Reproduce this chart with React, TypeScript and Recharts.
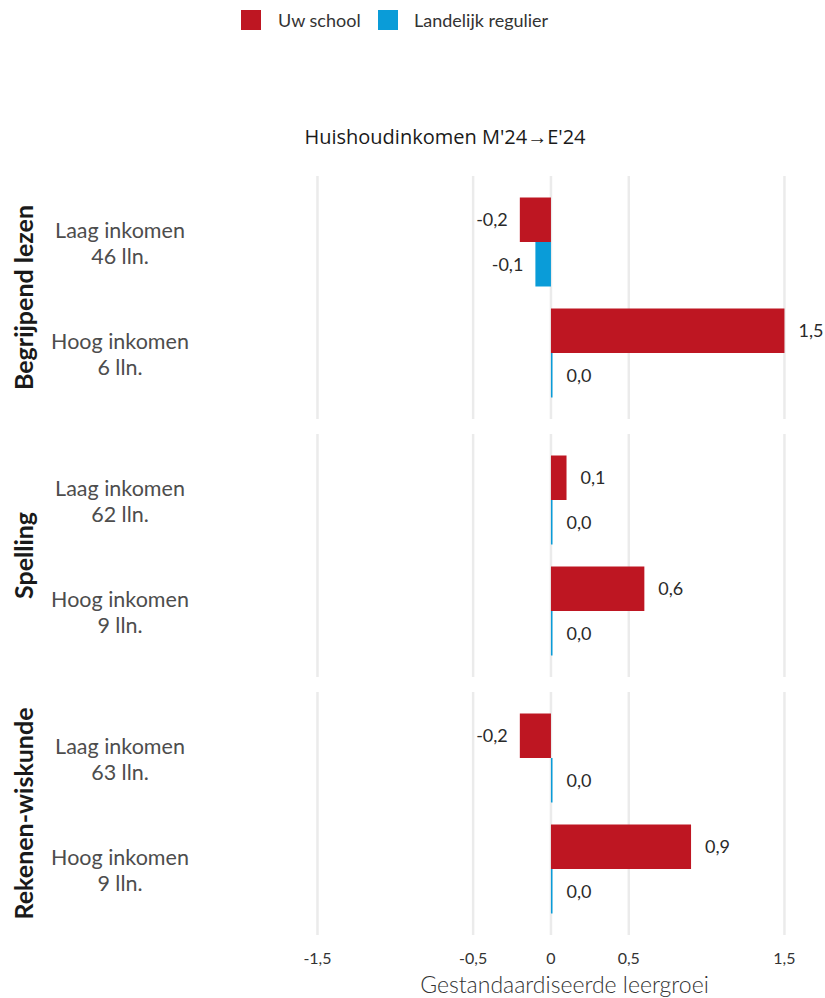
import React from 'react';
import { BarChart, Bar, XAxis, YAxis, CartesianGrid, LabelList, Label } from 'recharts';

const subjects = ['Begrijpend lezen', 'Spelling', 'Rekenen-wiskunde'];
const groups = ['Laag inkomen', 'Hoog inkomen'];
const pupilCounts = [
  [46, 6],
  [62, 9],
  [63, 9],
];
const schoolValues = [
  [-0.2, 1.5],
  [0.1, 0.6],
  [-0.2, 0.9],
];
const nationalValues = [
  [-0.1, 0.01],
  [0.01, 0.01],
  [0.01, 0.01],
];
const xTicks = [-1.5, -0.5, 0, 0.5, 1.5];
const xDomain = [-1.548, 1.722];
const seriesNames = ['Uw school', 'Landelijk regulier'];
const seriesColors = ['#BE1622', '#0A9CD8'];
const titleText = "Huishoudinkomen M'24\u2192E'24";
const xAxisTitle = 'Gestandaardiseerde leergroei';

const FONT = 'Lato, "Open Sans", sans-serif';
const fmt = (v: number) => v.toFixed(1).replace('.', ',');
const fmtTick = (v: number) => String(v).replace('.', ',');

const panelTops = [176, 434, 692];
const PANEL_H = 243;
const AXIS_H = 62;

const buildData = (si: number) =>
  groups.map((g, gi) => ({
    group: `${g}\n${pupilCounts[si][gi]} lln.`,
    school: schoolValues[si][gi],
    national: nationalValues[si][gi],
  }));

const CategoryTick = (props: any) => {
  const { y, payload } = props;
  const lines = String(payload.value).split('\n');
  return (
    <text x={120} y={y} textAnchor="middle" fill="#4d4d4d" fontFamily={FONT} fontSize={21.5}>
      <tspan x={120} y={y - 4.5}>{lines[0]}</tspan>
      <tspan x={120} y={y + 22}>{lines[1]}</tspan>
    </text>
  );
};

const XTick = (props: any) => {
  const { x, y, payload } = props;
  return (
    <text x={x} y={y + 29} textAnchor="middle" fill="#333" fontFamily={FONT} fontSize={16}>
      {fmtTick(payload.value)}
    </text>
  );
};

const BarValueLabel = (props: any) => {
  const { x, y, width, height, value } = props;
  const x0 = Number(x);
  const w = Number(width);
  const left = Math.min(x0, x0 + w);
  const right = Math.max(x0, x0 + w);
  const neg = Number(value) < 0;
  return (
    <text
      x={neg ? left - 12 : right + 14}
      y={Number(y) + Number(height) / 2}
      dy="0.35em"
      textAnchor={neg ? 'end' : 'start'}
      fill="#2a2a2a"
      fontFamily={FONT}
      fontSize={18}
    >
      {fmt(Number(value))}
    </text>
  );
};

const facetLabel = (name: string) => (props: any) => {
  const vb = props.viewBox || { y: 0, height: PANEL_H };
  const cy = vb.y + vb.height / 2;
  return (
    <text
      x={33}
      y={cy}
      transform={`rotate(-90, 33, ${cy})`}
      textAnchor="middle"
      fill="#1a1a1a"
      fontFamily={FONT}
      fontWeight={700}
      fontSize={25}
    >
      {name}
    </text>
  );
};

const axisTitle = (props: any) => {
  const vb = props.viewBox || { x: 310, y: PANEL_H, width: 509 };
  return (
    <text
      x={vb.x + vb.width / 2}
      y={vb.y + 58}
      textAnchor="middle"
      fill="#333"
      fontFamily={FONT}
      fontWeight={300}
      fontSize={23}
    >
      {xAxisTitle}
    </text>
  );
};

const gridCoords = (args: any) => {
  const axis = args && args.xAxis;
  const scale = axis && axis.scale;
  if (typeof scale === 'function') {
    return xTicks.map((t) => scale(t));
  }
  const off = args.offset;
  return xTicks.map((t) => off.left + ((t - xDomain[0]) / (xDomain[1] - xDomain[0])) * off.width);
};

const Panel = ({ si }: { si: number }) => {
  const last = si === subjects.length - 1;
  return (
    <div style={{ position: 'absolute', left: 0, top: panelTops[si] }}>
      <BarChart
        width={825}
        height={PANEL_H + (last ? AXIS_H : 0)}
        data={buildData(si)}
        layout="vertical"
        margin={{ top: 0, right: 6, bottom: 0, left: 0 }}
        barGap={0}
        barSize={44.5}
      >
        <CartesianGrid
          horizontal={false}
          vertical={true}
          stroke="#ebebeb"
          strokeWidth={2.5}
          verticalCoordinatesGenerator={gridCoords}
        />
        <XAxis
          type="number"
          domain={xDomain}
          ticks={xTicks}
          allowDataOverflow
          hide={!last}
          height={last ? AXIS_H : 0}
          axisLine={false}
          tickLine={false}
          tickSize={0}
          tickMargin={0}
          tick={<XTick />}
          interval={0}
        >
          {last ? <Label content={axisTitle} /> : null}
        </XAxis>
        <YAxis
          type="category"
          dataKey="group"
          width={310}
          axisLine={false}
          tickLine={false}
          tick={<CategoryTick />}
          interval={0}
          padding={{ top: 10.5, bottom: 10.5 }}
        >
          <Label content={facetLabel(subjects[si])} />
        </YAxis>
        <Bar dataKey="school" name={seriesNames[0]} fill={seriesColors[0]} isAnimationActive={false}>
          <LabelList dataKey="school" content={<BarValueLabel />} />
        </Bar>
        <Bar dataKey="national" name={seriesNames[1]} fill={seriesColors[1]} isAnimationActive={false}>
          <LabelList dataKey="national" content={<BarValueLabel />} />
        </Bar>
      </BarChart>
    </div>
  );
};

export default function App() {
  return (
    <div style={{ position: 'absolute', left: 0, top: 0, width: 825, height: 998, background: '#fff' }}>
      <svg width={825} height={160} style={{ position: 'absolute', left: 0, top: 0 }}>
        <rect x={241} y={10} width={20} height={20} fill={seriesColors[0]} />
        <text x={278} y={27} fill="#333" fontFamily={FONT} fontSize={18}>
          {seriesNames[0]}
        </text>
        <rect x={378} y={10} width={20} height={20} fill={seriesColors[1]} />
        <text x={414} y={27} fill="#333" fontFamily={FONT} fontSize={18}>
          {seriesNames[1]}
        </text>
        <text x={445} y={144} textAnchor="middle" fill="#1a1a1a" fontFamily='"Open Sans", sans-serif' fontSize={20}>
          {titleText}
        </text>
      </svg>
      {subjects.map((_, si) => (
        <Panel key={si} si={si} />
      ))}
    </div>
  );
}
